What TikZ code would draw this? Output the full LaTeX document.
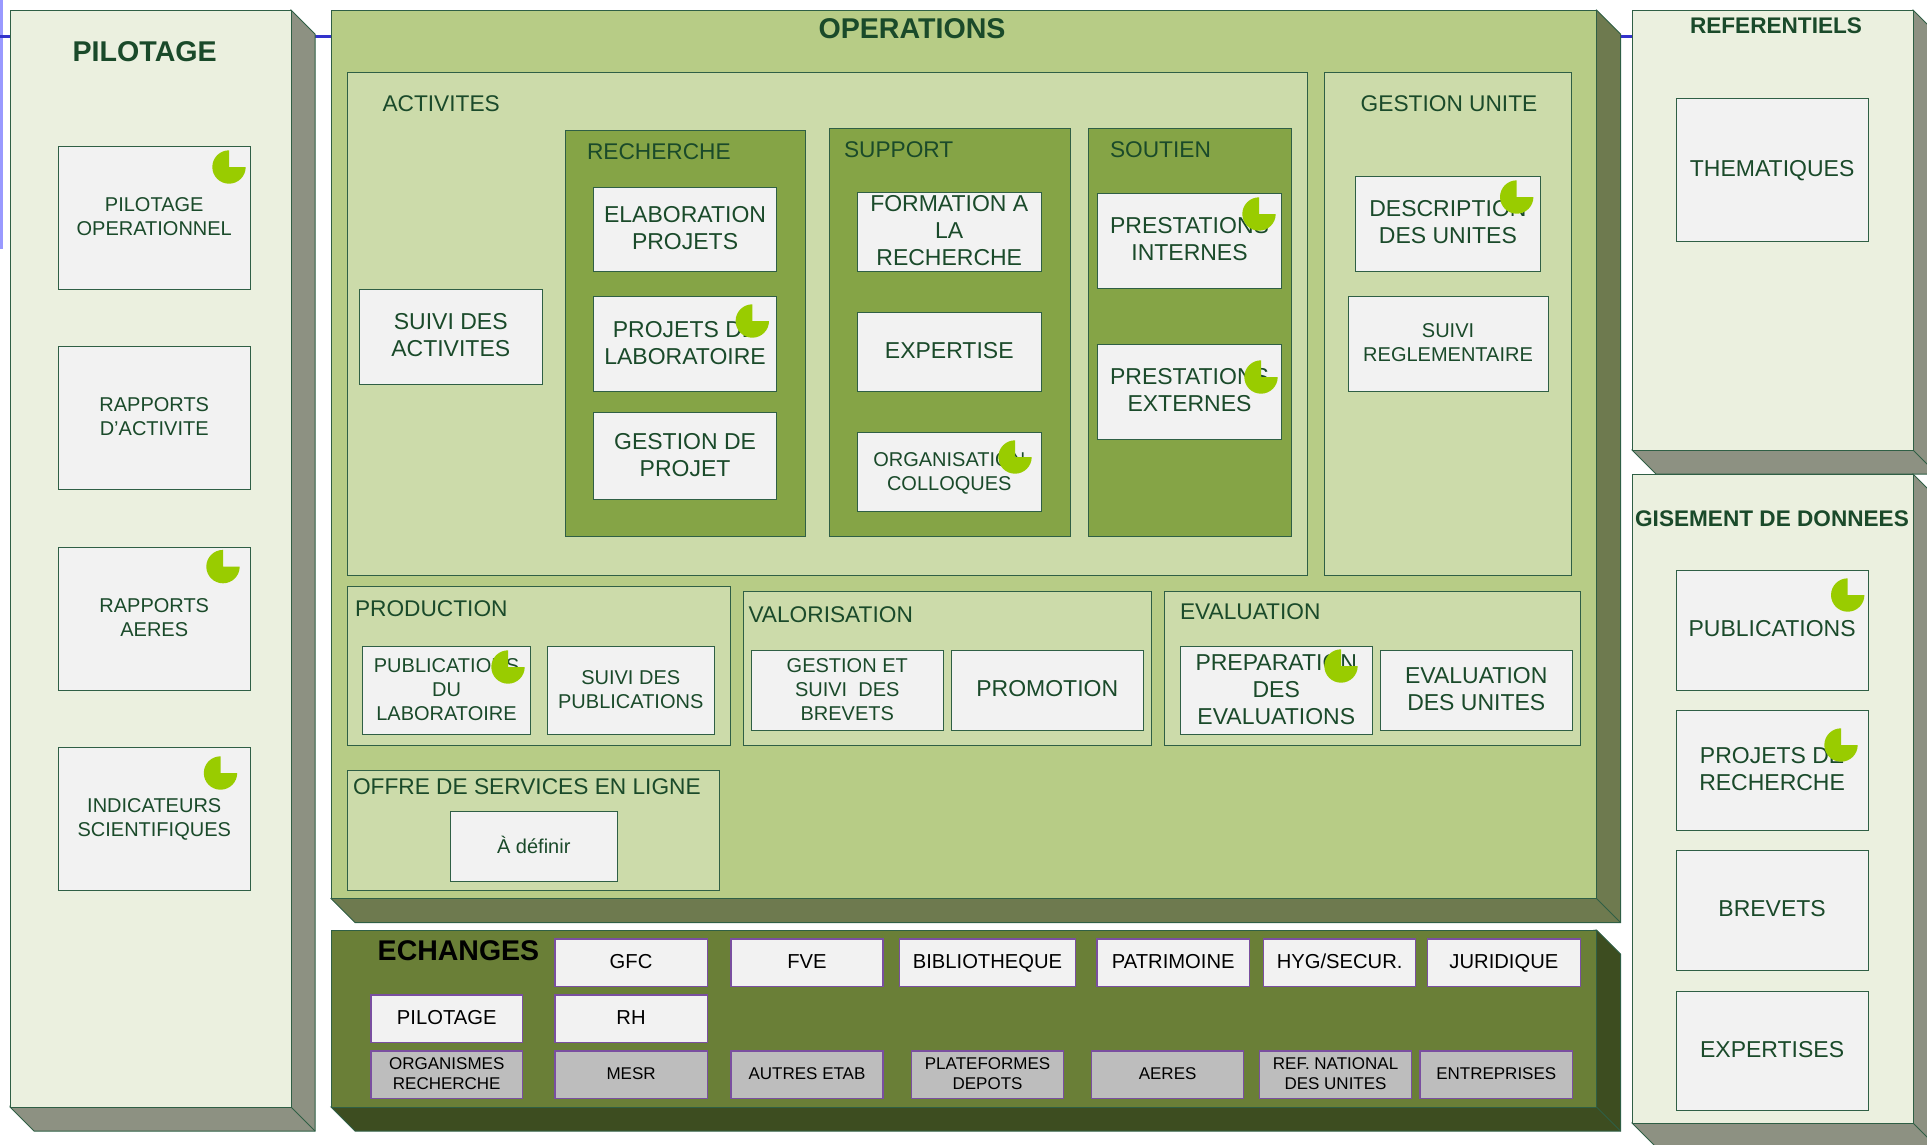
\documentclass[tikz,border=0pt]{standalone}
\usepackage{fontspec}
\setmainfont{Liberation Sans}
\definecolor{txtg}{HTML}{1A4A2A}
\definecolor{edge}{HTML}{2F5F45}
\definecolor{pale}{HTML}{EBF0DF}
\definecolor{paledeep}{HTML}{8D9182}
\definecolor{ops}{HTML}{B7CC86}
\definecolor{opsdeep}{HTML}{6E7A4F}
\definecolor{light}{HTML}{CCDBAA}
\definecolor{mid}{HTML}{85A446}
\definecolor{card}{HTML}{F2F2F2}
\definecolor{ech}{HTML}{6A7F37}
\definecolor{echdeep}{HTML}{3D4D20}
\definecolor{greyc}{HTML}{BDBDBD}
\definecolor{violet}{HTML}{7A4FA0}
\definecolor{piec}{HTML}{99CC00}
\definecolor{blueline}{HTML}{3333CC}
\definecolor{blueband}{HTML}{9999FF}
\tikzset{
  every node/.style={inner sep=0pt,outer sep=0pt},
  cardn/.style={draw=edge,fill=card,line width=0.9pt,text=txtg,align=center,text depth=3pt,font=\fontsize{23}{27}\selectfont},
  cards/.style={cardn,text depth=1.5pt,font=\fontsize{20}{24}\selectfont},
  echw/.style={draw=violet,fill=card,line width=1.1pt,text=black,align=center,text depth=2.5pt,font=\fontsize{20.2}{25}\selectfont},
  echg/.style={draw=violet,fill=greyc,line width=1.1pt,text=black,align=center,text depth=2.5pt,font=\fontsize{17}{20}\selectfont},
  sect/.style={text=txtg,anchor=west,text depth=0pt,font=\fontsize{22.7}{27}\selectfont},
  sectc/.style={text=txtg,text depth=0pt,font=\fontsize{22.7}{27}\selectfont},
  headb/.style={text=txtg,text depth=0pt,font=\fontsize{28.6}{32}\bfseries\selectfont},
  heads/.style={text=txtg,text depth=0pt,font=\fontsize{22.6}{26}\bfseries\selectfont},
  headk/.style={text=black,text depth=0pt,font=\fontsize{28.5}{32}\bfseries\selectfont},
  panel/.style={draw=edge,line width=1pt},
  lightp/.style={panel,fill=light},
  midp/.style={panel,fill=mid},
}
% style, name, x0, y0, x1, y1, text
\newcommand\rectnode[7]{%
  \pgfmathsetmacro\rcx{(#3+#5)/2-0.25}\pgfmathsetmacro\rcy{(#4+#6)/2-0.25}%
  \pgfmathsetmacro\rw{#5-#3-0.5}\pgfmathsetmacro\rh{#6-#4-0.5}%
  \node[#1,minimum width=\rw pt,minimum height=\rh pt] (#2) at (\rcx,\rcy) {#7};}
% front colour, deep colour, x0, y0, x1, y1
\newcommand\solid[6]{%
  \pgfmathsetmacro\sxx{#5+24}\pgfmathsetmacro\syy{#6+24}%
  \pgfmathsetmacro\sxa{#3+24}\pgfmathsetmacro\sya{#4+24}%
  \filldraw[draw=edge,fill=#2,line width=1pt] (#5,#4) -- (\sxx,\sya) -- (\sxx,\syy) -- (\sxa,\syy) -- (#3,#6) -- cycle;
  \draw[edge,line width=1pt] (#5,#6) -- (\sxx,\syy);
  \filldraw[draw=edge,fill=#1,line width=1pt] (#3,#4) rectangle (#5,#6);}
\newcommand\pie[2]{%
  \fill[piec] (#1,#2) -- ++(16.7,0) arc[start angle=0,end angle=-270,radius=16.7pt] -- cycle;}
\begin{document}
\begin{tikzpicture}[x=1pt,y=-1pt]
\useasboundingbox (0,0) rectangle (1927,1144);
\clip (0,0) rectangle (1927,1144);
% blue line behind
\fill[blueband] (0,0) rectangle (3,249);
\coordinate (blueL) at (0,36);
\coordinate (blueR) at (1632,36);
\draw[blueline,line width=3pt] (blueL) -- (blueR);
% solids
\solid{pale}{paledeep}{10}{10}{291}{1107}
\solid{ops}{opsdeep}{331}{10}{1596.5}{898.5}
\solid{ech}{echdeep}{331}{930}{1596.5}{1107}
\solid{pale}{paledeep}{1632}{10}{1913}{450}
\solid{pale}{paledeep}{1632}{474}{1913}{1123}
% headings
\node[headb] (hpil) at (144.7,52) {PILOTAGE};
\node[headb] (hops) at (912,29) {OPERATIONS};
\node[heads] (href) at (1776,26) {REFERENTIELS};
\node[heads] (hgis) at (1772,519) {GISEMENT DE DONNEES};
\node[headk] (hech) at (458.5,951) {ECHANGES};
% PILOTAGE
\rectnode{cards}{pilop}{58}{146}{251}{290}{PILOTAGE\\OPERATIONNEL}
\rectnode{cards}{rapact}{58}{346}{251}{490}{RAPPORTS\\D’ACTIVITE}
\rectnode{cards}{rapaer}{58}{547}{251}{691}{RAPPORTS\\AERES}
\rectnode{cards}{indsc}{58}{747}{251}{891}{INDICATEURS\\SCIENTIFIQUES}
% OPERATIONS panels
\rectnode{lightp}{pact}{347}{72}{1308}{576}{}
\rectnode{lightp}{pges}{1324}{72}{1572}{576}{}
\rectnode{midp}{prec}{565}{130}{806}{537}{}
\rectnode{midp}{psup}{829}{128}{1070.5}{537}{}
\rectnode{midp}{psou}{1088}{128}{1292}{537}{}
\rectnode{lightp}{ppro}{347}{586}{731}{746}{}
\rectnode{lightp}{pval}{743.5}{591}{1151.5}{746}{}
\rectnode{lightp}{peva}{1164}{591}{1580.5}{746}{}
\rectnode{lightp}{poff}{347}{770.6}{720}{891}{}
\node[sect] (lact) at (382.5,103.5) {ACTIVITES};
\node[sectc] (lges) at (1449,103.5) {GESTION UNITE};
\node[sect] (lrec) at (587,151.5) {RECHERCHE};
\node[sect] (lsup) at (844,149.5) {SUPPORT};
\node[sect] (lsou) at (1110,149.5) {SOUTIEN};
\node[sect] (lpro) at (355,608.5) {PRODUCTION};
\node[sect] (lval) at (748.5,615) {VALORISATION};
\node[sect] (leva) at (1180,611.5) {EVALUATION};
\node[sect] (loff) at (353,787) {OFFRE DE SERVICES EN LIGNE};
% ACTIVITES cards
\rectnode{cardn}{suiact}{359}{289}{543}{385}{SUIVI DES\\ACTIVITES}
\rectnode{cardn}{elab}{593.3}{187}{777.3}{272}{ELABORATION\\PROJETS}
\rectnode{cardn}{prjlab}{593.3}{296.7}{777.3}{392}{PROJETS DE\\LABORATOIRE}
\rectnode{cardn}{gesprj}{593.3}{412.7}{777.3}{500}{GESTION DE\\PROJET}
\rectnode{cardn}{form}{857.3}{192}{1041.7}{272}{FORMATION A\\LA\\RECHERCHE}
\rectnode{cardn}{expt}{857.3}{312}{1041.7}{392}{EXPERTISE}
\rectnode{cards}{orgc}{857.3}{432.7}{1041.7}{512}{ORGANISATION\\COLLOQUES}
\rectnode{cardn}{prein}{1097.5}{193}{1282}{289}{PRESTATIONS\\INTERNES}
\rectnode{cardn}{preex}{1097.5}{344}{1282}{440}{PRESTATIONS\\EXTERNES}
\rectnode{cardn}{desc}{1355.6}{176}{1540.7}{272}{DESCRIPTION\\DES UNITES}
\rectnode{cards}{suireg}{1348}{296}{1548.6}{392}{SUIVI\\REGLEMENTAIRE}
% lower cards
\rectnode{cards}{publab}{362.5}{646.5}{531}{735}{PUBLICATIONS\\DU\\LABORATOIRE}
\rectnode{cards}{suipub}{547}{646.5}{715}{735}{SUIVI DES\\PUBLICATIONS}
\rectnode{cards}{gesbre}{751}{650}{944}{731}{GESTION ET\\SUIVI\ \ DES\\BREVETS}
\rectnode{cardn}{promo}{951}{650}{1144}{731}{PROMOTION}
\rectnode{cardn}{prepa}{1180}{646.5}{1373}{735}{PREPARATION\\DES\\EVALUATIONS}
\rectnode{cardn}{evalu}{1380}{650}{1573}{731}{EVALUATION\\DES UNITES}
\rectnode{cards}{adef}{450}{811}{618}{882}{\raisebox{1.5pt}{À définir}}
% right columns
\rectnode{cardn}{them}{1676}{98}{1868.7}{242}{THEMATIQUES}
\rectnode{cardn}{pubs}{1676}{570}{1868.7}{691}{PUBLICATIONS}
\rectnode{cardn}{prjrec}{1676}{710}{1868.7}{831}{PROJETS DE\\RECHERCHE}
\rectnode{cardn}{brev}{1676}{850}{1868.7}{971}{BREVETS}
\rectnode{cardn}{expts}{1676}{991}{1868.7}{1110.7}{EXPERTISES}
% ECHANGES
\rectnode{echw}{gfc}{555}{939}{707.6}{987}{GFC}
\rectnode{echw}{fve}{731}{939}{883.5}{987}{FVE}
\rectnode{echw}{bib}{899.5}{939}{1076}{987}{BIBLIOTHEQUE}
\rectnode{echw}{pat}{1097}{939}{1250}{987}{PATRIMOINE}
\rectnode{echw}{hyg}{1263.7}{939}{1416}{987}{HYG/SECUR.}
\rectnode{echw}{jur}{1427.6}{939}{1580.7}{987}{JURIDIQUE}
\rectnode{echw}{epil}{371}{995}{523}{1043}{PILOTAGE}
\rectnode{echw}{rh}{555}{995}{707.6}{1043}{RH}
\rectnode{echg}{orgr}{371}{1051}{523}{1099}{ORGANISMES\\RECHERCHE}
\rectnode{echg}{mesr}{555}{1051}{707.6}{1099}{MESR}
\rectnode{echg}{aut}{731}{1051}{883.5}{1099}{AUTRES ETAB}
\rectnode{echg}{plat}{911.6}{1051}{1064}{1099}{PLATEFORMES\\DEPOTS}
\rectnode{echg}{aer}{1091.7}{1051}{1244}{1099}{AERES}
\rectnode{echg}{refn}{1259.6}{1051}{1412}{1099}{REF. NATIONAL\\DES UNITES}
\rectnode{echg}{entr}{1420}{1051}{1573}{1099}{ENTREPRISES}
% pies
\pie{229}{167}
\pie{223}{566.6}
\pie{220.5}{773}
\pie{752.3}{321}
\pie{1015}{457}
\pie{1259}{214}
\pie{1261}{377}
\pie{1516.7}{197}
\pie{508}{667}
\pie{1341}{666}
\pie{1847.7}{595}
\pie{1841}{745}
\end{tikzpicture}
\end{document}
